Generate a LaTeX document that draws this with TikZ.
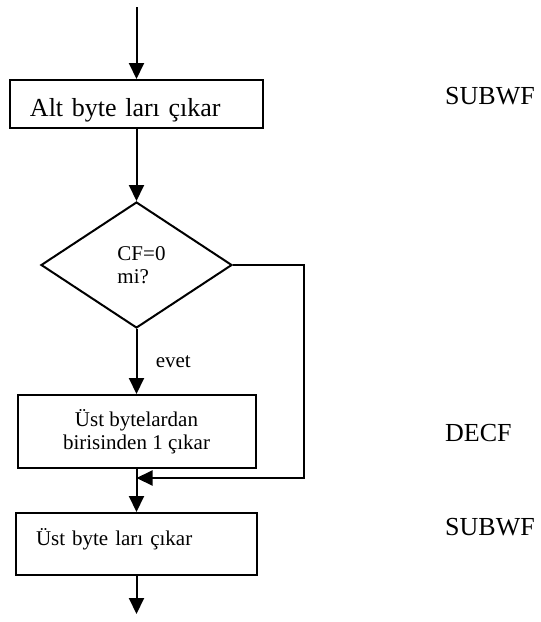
\documentclass[tikz,border=0pt]{standalone}
\usepackage{fontspec}
\setmainfont{Liberation Serif}
\usepackage{tikz}
\usetikzlibrary{arrows.meta,shapes.geometric}
\definecolor{ink}{RGB}{0, 0, 0}

\begin{document}
\begin{tikzpicture}[x=1pt,y=-1pt,
  box/.style={draw=ink,line width=2pt,rectangle,inner sep=0pt},
  flow/.style={draw=ink,line width=2pt,-{Triangle[length=16pt,width=15pt]}},
  small/.style={font=\fontsize{21}{23}\selectfont},
  big/.style={font=\fontsize{26}{30}\selectfont}]
\useasboundingbox (0,0) rectangle (541,622);
% flow chart
\node[box,big,minimum width=253pt,minimum height=48pt,inner xsep=20pt,text width=213pt,align=left,text height=31pt,text depth=6pt] (sub1) at (136.5,104) {Alt byte ları çıkar};
\node[draw=ink,line width=2pt,diamond,small,minimum width=191pt,minimum height=126pt,inner sep=0pt,align=left] (test) at (136.5,265) {\hspace*{10pt}CF=0\\\hspace*{10pt}mi?};
\node[box,small,minimum width=238pt,minimum height=73pt,align=center] (dec) at (136.5,431.5) {Üst bytelardan\\birisinden 1 çıkar};
\node[box,small,minimum width=241pt,minimum height=62pt,inner xsep=20pt,text width=201pt,align=left,text height=16pt,text depth=14pt] (sub2) at (136.5,544) {Üst byte ları çıkar};
\coordinate (start) at (136.5,7);
\coordinate (join) at (136.5,478);
\coordinate (stop) at (136.5,614);
\draw[flow] (start) -- (sub1);
\draw[flow] (sub1) -- (test);
\draw[flow] (test) -- node[small,right=15pt] (yes) {evet} (dec);
\draw[flow] (dec) -- (sub2);
\draw[flow] (test.east) -- ++(71,0) |- (join);
\draw[flow] (sub2) -- (stop);
% instructions
\node[big,anchor=west,inner sep=0pt] (op1) at (445,96.5) {SUBWF};
\node[big,anchor=west,inner sep=0pt] (op2) at (445,433.5) {DECF};
\node[big,anchor=west,inner sep=0pt] (op3) at (445,527) {SUBWF};
\end{tikzpicture}
\end{document}
